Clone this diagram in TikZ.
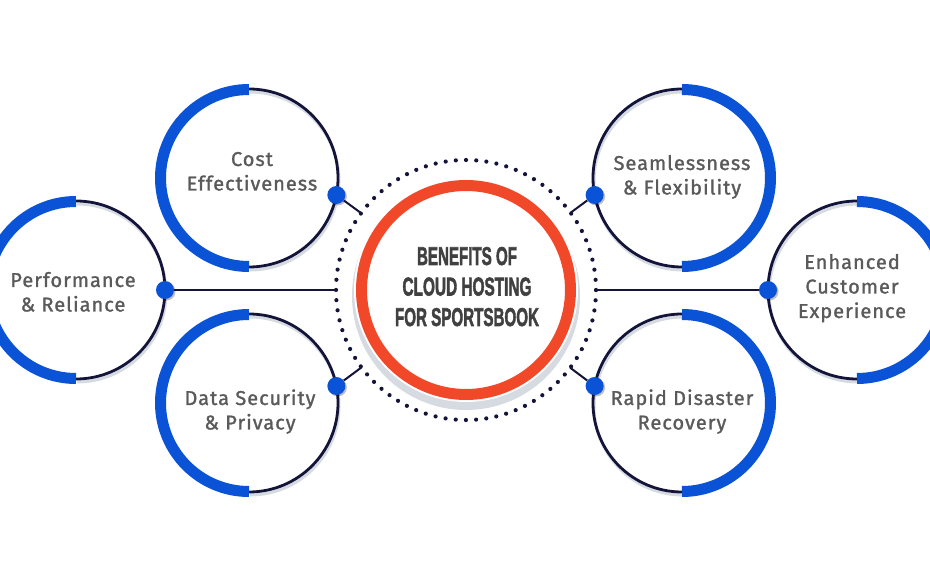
\documentclass[tikz,border=0pt]{standalone}
\usepackage{fontspec}
\usepackage{graphicx}
\usetikzlibrary{calc,shadows}
\setmainfont{Fira Sans}
\newfontfamily\labelfont{Fira Sans}[FakeBold=1.3,LetterSpace=5]
\newfontfamily\titlefont{Liberation Sans}[BoldFeatures={FakeBold=2.5}]
\definecolor{cblue}{HTML}{0A53D6}
\definecolor{cnavy}{HTML}{14143A}
\definecolor{cred}{HTML}{F2482A}
\definecolor{ctext}{HTML}{5A5A5A}
\definecolor{ctitle}{HTML}{404040}
\definecolor{cshadow}{HTML}{D5DBE1}
\newcommand\drawsatL[1]{%
 \draw[shadowarc] ($(#1)+(1,86)$) arc[start angle=90,end angle=-90,radius=89];
 \draw[darkarc] ($(#1)+(0,89)$) arc[start angle=90,end angle=-90,radius=89];
 \draw[bluearc] ($(#1)+(0,88.5)$) arc[start angle=90,end angle=270,radius=88.5];}
\newcommand\drawsatR[1]{%
 \draw[shadowarc] ($(#1)+(1,86)$) arc[start angle=90,end angle=270,radius=89];
 \draw[darkarc] ($(#1)+(0,89)$) arc[start angle=90,end angle=270,radius=89];
 \draw[bluearc] ($(#1)+(0,88.5)$) arc[start angle=90,end angle=-90,radius=88.5];}
\begin{document}
\begin{tikzpicture}[x=1pt,y=1pt,
  bluearc/.style={cblue,line width=11pt},
  darkarc/.style={cnavy,line width=2.8pt},
  shadowarc/.style={cshadow,line width=3pt},
  link/.style={cnavy,line width=2pt},
  dotnode/.style={circle,fill=cblue,minimum size=18pt,inner sep=0pt,
    drop shadow={shadow xshift=1.5pt,shadow yshift=-1.5pt,fill=black,opacity=0.25}},
  lbl/.style={anchor=base,inner sep=0pt,text=ctext,font=\labelfont\fontsize{20}{24.5}\selectfont}]
\useasboundingbox (0,0) rectangle (930,579);
\fill[white] (0,0) rectangle (930,579);
\coordinate (ctr) at (466,289);
\coordinate (c1) at (249,401);
\coordinate (c2) at (76,289);
\coordinate (c3) at (249,176);
\coordinate (c4) at (682,401);
\coordinate (c5) at (857,289);
\coordinate (c6) at (682,176);
% center
\fill[cshadow] ($(ctr)+(0,-6)$) circle[radius=114];
\fill[white] (ctr) circle[radius=112];
\draw[cred,line width=11pt] (ctr) circle[radius=104.5];
\draw[cnavy,line width=4.2pt,dash pattern=on 0pt off 10.21pt,line cap=round] (ctr) circle[radius=130];
\node[anchor=base,inner sep=0pt,text=ctitle] (title) at (467,314) {\titlefont\bfseries\fontsize{20}{30.5}\selectfont
 \begin{tabular}[t]{@{}c@{}}\resizebox{100pt}{18pt}{BENEFITS OF}\\\resizebox{129pt}{18pt}{CLOUD HOSTING}\\\resizebox{144pt}{18pt}{FOR SPORTSBOOK}\end{tabular}};
% satellites
\drawsatL{c1}
\drawsatL{c2}
\drawsatL{c3}
\drawsatR{c4}
\drawsatR{c5}
\drawsatR{c6}
% dots and connectors
\coordinate (d1) at ($(c1)+(-11:89)$);
\coordinate (d2) at ($(c2)+(0:89)$);
\coordinate (d3) at ($(c3)+(11:89)$);
\coordinate (d4) at ($(c4)+(191:89)$);
\coordinate (d5) at ($(c5)+(180:89)$);
\coordinate (d6) at ($(c6)+(169:89)$);
\foreach \i in {1,...,6}{
  \coordinate (e\i) at ($(ctr)!130pt!(d\i)$);
  \node[dotnode] (dot\i) at (d\i) {};
  \draw[link] (dot\i) -- (e\i);
}
% labels
\node[lbl] (tcost) at (252,413) {\begin{tabular}[t]{@{}c@{}}Cost\\Effectiveness\end{tabular}};
\node[lbl] (tperf) at (73,292) {\begin{tabular}[t]{@{}c@{}}Performance\\\& Reliance\end{tabular}};
\node[lbl] (tdata) at (250,174) {\begin{tabular}[t]{@{}c@{}}Data Security\\\& Privacy\end{tabular}};
\node[lbl] (tseam) at (682,409) {\begin{tabular}[t]{@{}c@{}}Seamlessness\\\& Flexibility\end{tabular}};
\node[lbl] (tenh) at (852,310) {\begin{tabular}[t]{@{}c@{}}Enhanced\\Customer\\Experience\end{tabular}};
\node[lbl] (trapid) at (682,174) {\begin{tabular}[t]{@{}c@{}}Rapid Disaster\\Recovery\end{tabular}};
\end{tikzpicture}
\end{document}
